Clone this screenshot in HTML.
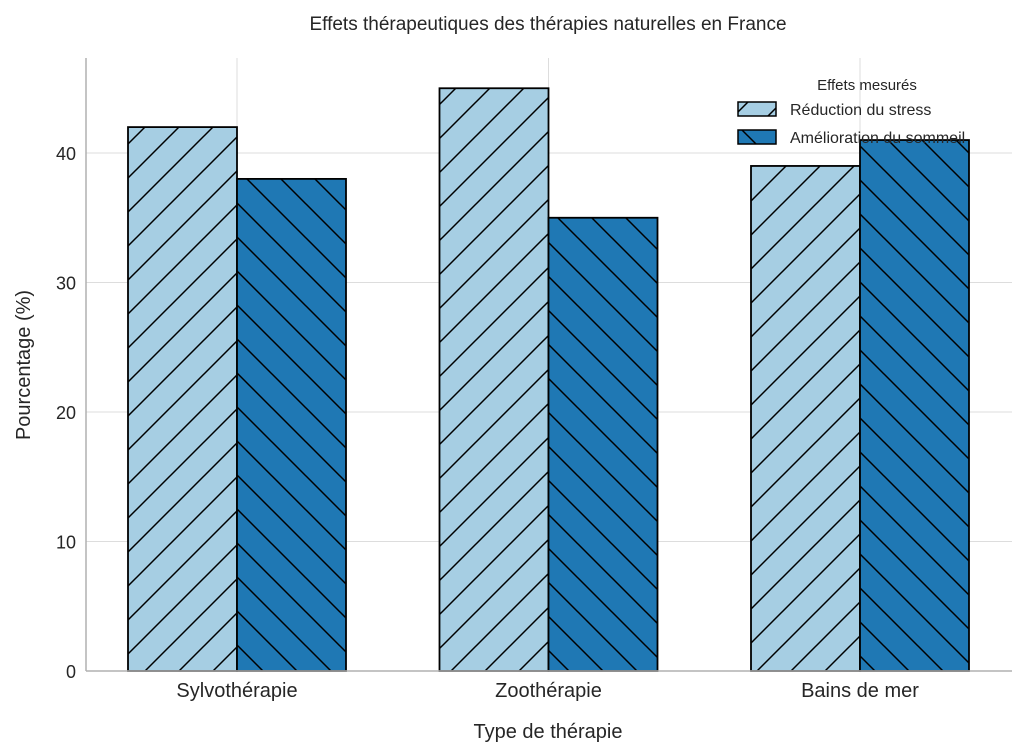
<!DOCTYPE html>
<html><head><meta charset="utf-8"><style>body{margin:0;background:#fff}svg{display:block;font-family:"Liberation Sans","DejaVu Sans",sans-serif}</style></head>
<body>
<svg id="chart" width="1024" height="756" xmlns="http://www.w3.org/2000/svg">
<defs>
<pattern id="hl" patternUnits="userSpaceOnUse" width="34" height="34"><rect width="34" height="34" fill="#a6cee3"/><path d="M0 34 L34 0 M-10 10 L10 -10 M24 44 L44 24" stroke="#000" stroke-width="1.5"/></pattern>
<pattern id="hd" patternUnits="userSpaceOnUse" width="34" height="34"><rect width="34" height="34" fill="#1f78b4"/><path d="M0 0 L34 34 M-10 24 L10 44 M24 -10 L44 10" stroke="#000" stroke-width="1.5"/></pattern>
</defs>
<g id="grid"></g>
<g id="bars"></g>
<g id="axes"></g>
<text x="548" y="30" font-size="19" text-anchor="middle" fill="#262626">Effets thérapeutiques des thérapies naturelles en France</text>
<text x="548" y="738" font-size="20" text-anchor="middle" fill="#262626">Type de thérapie</text>
<text transform="translate(30,365) rotate(-90)" font-size="20" text-anchor="middle" fill="#262626">Pourcentage (%)</text>
<g>
<text x="867" y="90" font-size="15" text-anchor="middle" fill="#262626">Effets mesurés</text>
<rect x="738" y="102" width="38" height="14" fill="url(#hl)" stroke="#000" stroke-width="1.5"/>
<text x="790" y="115" font-size="16" fill="#262626">Réduction du stress</text>
<rect x="738" y="130" width="38" height="14" fill="url(#hd)" stroke="#000" stroke-width="1.5"/>
<text x="790" y="143" font-size="16" fill="#262626">Amélioration du sommeil</text>
</g>
</svg>
<script>
const categories=["Sylvothérapie","Zoothérapie","Bains de mer"];
const stress=[42,45,39];
const sommeil=[38,35,41];
const yTicks=[0,10,20,30,40];
const NS="http://www.w3.org/2000/svg";
const y0=671,pxU=12.95,xc0=237,pxC=311.5,bw=109;
const ys=v=>y0-v*pxU, xs=i=>xc0+i*pxC;
function mk(t,a,p){const e=document.createElementNS(NS,t);for(const k in a)e.setAttribute(k,a[k]);p.appendChild(e);return e;}
const g=document.getElementById('grid'),b=document.getElementById('bars'),ax=document.getElementById('axes');
yTicks.forEach(v=>{const l=mk('line',{x1:86,x2:1012,y1:ys(v),y2:ys(v),stroke:'#dddddd','stroke-width':1},g);

const t=mk('text',{x:76,y:ys(v)+7,'font-size':18,'text-anchor':'end',fill:'#262626'},ax);t.textContent=v;
});
categories.forEach((c,i)=>{const l=mk('line',{x1:xs(i),x2:xs(i),y1:58,y2:y0,stroke:'#dddddd','stroke-width':1},g);

const t=mk('text',{x:xs(i),y:697,'font-size':20,'text-anchor':'middle',fill:'#262626'},ax);t.textContent=c;

const r1=mk('rect',{x:xs(i)-bw,y:ys(stress[i]),width:bw,height:stress[i]*pxU,fill:'url(#hl)',stroke:'#000','stroke-width':1.8},b);

const r2=mk('rect',{x:xs(i),y:ys(sommeil[i]),width:bw,height:sommeil[i]*pxU,fill:'url(#hd)',stroke:'#000','stroke-width':1.8},b);
});
const s1=mk('line',{x1:86,x2:86,y1:58,y2:y0,stroke:'#b0b0b0','stroke-width':1.5},ax);

const s2=mk('line',{x1:86,x2:1012,y1:y0,y2:y0,stroke:'#b0b0b0','stroke-width':1.5},ax);

</script>
</body></html>
